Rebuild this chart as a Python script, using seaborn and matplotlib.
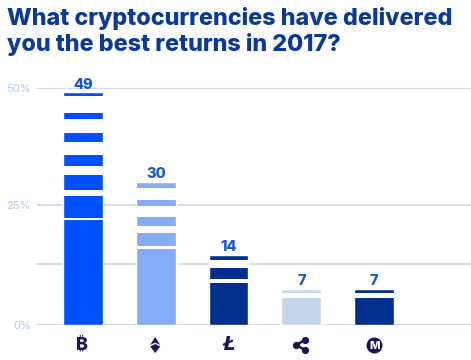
import numpy as np
import matplotlib
matplotlib.use('Agg')
import matplotlib.pyplot as plt
import pandas as pd
import seaborn as sns

coins = ['BTC', 'ETH', 'LTC', 'XRP', 'XMR']
heights = [49.0, 30.1, 14.8, 7.6, 7.6]
value_labels = ['49', '30', '14', '7', '7']
bar_colors = ['#0050FF', '#85ADF8', '#022F8E', '#C4D5EC', '#022F8E']

# white stripes cut through the bars: (upper, lower) in percent
gaps_btc = [(48.3, 44.6), (43.4, 40.4), (38.5, 35.8), (33.5, 31.6), (28.4, 27.2), (22.5, 22.1)]
gaps_eth = [(28.9, 26.3), (25.1, 22.8), (20.8, 19.4), (16.6, 16.0)]
gaps_ltc = [(13.7, 12.1), (9.6, 8.8)]
gaps_xrp = [(6.7, 5.7)]
gaps_xmr = [(6.7, 5.7)]

grid_values = [0, 12.9, 25.2, 50]
grid_labels = ['0%', '', '25%', '50%']

GRID = '#C5D5E8'
TICK = '#B5C9E6'
LABEL = '#1558D6'
TITLE = '#0A3A94'
ICON = '#1D1458'
BAR_W = 0.548

sns.set_theme(style='white')
plt.rcParams['font.family'] = ['Inter', 'DejaVu Sans']

fig = plt.figure(figsize=(4.71, 3.6), dpi=100)
ax = fig.add_axes([37 / 471, 35 / 360, 434 / 471, 237.5 / 360])

df = pd.DataFrame({'coin': coins, 'height': heights})
sns.barplot(data=df, x='coin', y='height', hue='coin', palette=bar_colors, order=coins,
            hue_order=coins, dodge=False, legend=False, width=BAR_W, saturation=1, ax=ax, zorder=2)

for i, gaps in enumerate([gaps_btc, gaps_eth, gaps_ltc, gaps_xrp, gaps_xmr]):
    for top, bottom in gaps:
        ax.bar(i, top - bottom, bottom=bottom, width=BAR_W, color='white', linewidth=0, zorder=3)

for container, lab in zip(ax.containers[:5], value_labels):
    ax.bar_label(container, labels=[lab], padding=0.5, color=LABEL, fontsize=10.5,
                 fontweight='heavy', zorder=5)

ax.set_xlim(-0.63, 5.33)
ax.set_ylim(0, 50)
ax.set_yticks(grid_values)
ax.set_yticklabels(grid_labels)
ax.set_xticks([])
ax.set_xlabel('')
ax.set_ylabel('')
ax.set_axisbelow(True)
ax.grid(axis='y', color=GRID, linewidth=1.1)
ax.tick_params(axis='y', length=0, pad=4.5, labelsize=8, labelcolor=TICK)
sns.despine(ax=ax, left=True, bottom=True)


def px(i, dx, dy):
    # pixel offset from the icon centre under bar i, in data units
    return i + dx / 72.9, (-20 - dy) / 4.75


# coin icons under the bars
x, y = px(0, -1, 0)
ax.text(x, y, '\u20bf', family=['Inter', 'Noto Sans', 'Roboto', 'DejaVu Sans'], fontweight='heavy',
        fontsize=13, color=ICON, ha='center', va='center', clip_on=False)
x, y = px(2, 0, 0)
ax.text(x, y, 'Ł', family='DejaVu Sans', fontweight='bold', style='italic', fontsize=13.5, color=ICON,
        ha='center', va='center', clip_on=False)

# ethereum
for pts in ([(-5, 0), (0, -8), (5, 0), (0, -2.5)], [(-5, 1.5), (0, -1), (5, 1.5), (0, 8)]):
    xy = [px(1, a - 0.5, b) for a, b in pts]
    ax.fill([p[0] for p in xy], [p[1] for p in xy], color=ICON, linewidth=0, clip_on=False)

# ripple
c = px(3, -5, 0)
for dx, dy in [(3.5, -5), (3.5, 5)]:
    e = px(3, dx, dy)
    ax.plot([c[0], e[0]], [c[1], e[1]], color=ICON, lw=1.8, clip_on=False)
    ax.plot(*e, 'o', color=ICON, ms=5.2, mew=0, clip_on=False)
ax.plot(*c, 'o', color=ICON, ms=5.2, mew=0, clip_on=False)

# monero
m = px(4, 0, 0)
ax.plot(*m, 'o', color=ICON, ms=11.5, mew=0, clip_on=False)
ax.text(m[0], m[1] - 0.2, 'M', color='white', fontsize=8, fontweight='heavy', ha='center', va='center',
        clip_on=False)

fig.text(7 / 471, 1 - 56 / 360, 'What cryptocurrencies have delivered\nyou the best returns in 2017?',
         color=TITLE, fontsize=16.8, fontweight='heavy', ha='left', va='bottom', linespacing=1.17)

fig.savefig('out.png', dpi=100, facecolor='white')
